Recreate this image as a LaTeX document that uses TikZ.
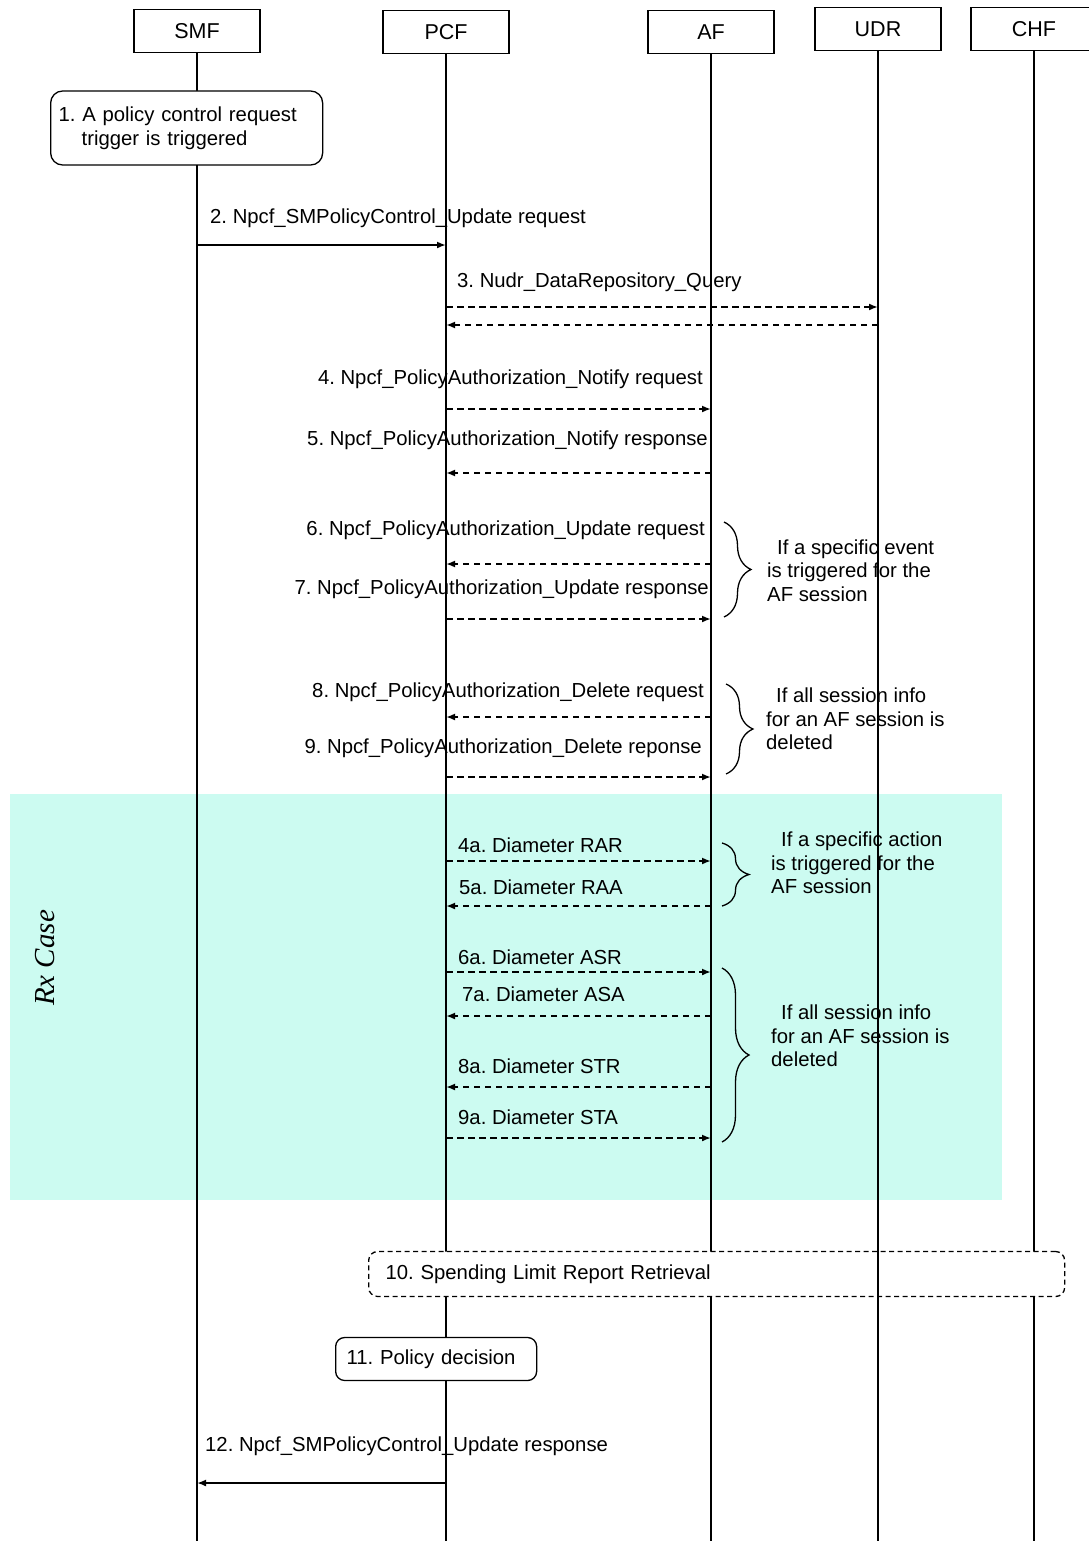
\documentclass[tikz,border=0pt]{standalone}
\usepackage{fontspec}
\setmainfont{Liberation Sans}
\newfontfamily\rxfont{Liberation Serif}
\usepackage{xcolor}
\usetikzlibrary{positioning}
\usetikzlibrary{arrows.meta}
\usetikzlibrary{decorations.pathreplacing}
\definecolor{rxcyan}{RGB}{204,251,241}

\begin{document}
\begin{tikzpicture}[x=1pt, y=-1pt, font=\fontsize{20.3}{24}\selectfont\frenchspacing,
	>={Latex[length=9pt,width=7pt]},
	block/.style={draw, rectangle, line width=1.3pt, minimum width=126pt, minimum height=43pt, inner sep=0pt,
		font=\fontsize{21.5}{24}\selectfont},
	life/.style={line width=1.3pt},
	msg/.style={->, line width=2pt},
	dmsg/.style={->, line width=2pt, dash pattern=on 6.5pt off 4.5pt},
	lbl/.style={anchor=base west, inner sep=0pt},
	rlbl/.style={anchor=base east, inner sep=0pt},
	note/.style={draw, rounded corners=9pt, fill=white, line width=1.3pt, anchor=west, inner ysep=0pt, align=left},
	cond/.style={anchor=north west, inner sep=0pt, align=left, font=\fontsize{20.3}{23.5}\selectfont\frenchspacing},
	grp/.style={decorate, decoration={brace, amplitude=27pt}, line width=1.3pt}]

\useasboundingbox (0,0) rectangle (1088,1541);
\fill[rxcyan] (10,794) rectangle (1002,1200);
\node (rx) [rotate=90, font=\rxfont\itshape\fontsize{29}{32}\selectfont] at (45,958) {Rx Case};

% network functions
\node (smf) [block] at (197,31) {SMF};
\node (pcf) [block] at (446,32) {PCF};
\node (af)  [block] at (711,32) {AF};
\node (udr) [block] at (878,29) {UDR};
\node (chf) [block] at (1034,29) {CHF};
\coordinate (bottom) at (0,1541);

\foreach \X in {smf,pcf,af,chf}
	\draw[life] (\X.south) -- (\X |- bottom);

% local steps
\node (trig) [note, rounded corners=12pt, minimum height=74pt, text width=256pt, inner xsep=8pt] at (50,128)
	{1. A policy control request\\\hspace*{23pt}trigger is triggered};
\node (slr) [note, dash pattern=on 5pt off 3.5pt, minimum height=45pt, text width=662pt, inner xsep=17pt] at (368,1274)
	{10. Spending Limit Report Retrieval};
\node (dec) [note, minimum height=43pt, text width=179pt, inner xsep=11pt] at (335,1359)
	{11. Policy decision};
\draw[life] (udr.south) -- (udr |- bottom);

% message labels
\node (l2)  [lbl]  at (210,223)  {2. Npcf\_SMPolicyControl\_Update request};
\node (l3)  [lbl]  at (457,287)  {3. Nudr\_DataRepository\_Query};
\node (l4)  [rlbl] at (703,384)  {4. Npcf\_PolicyAuthorization\_Notify request};
\node (l5)  [rlbl] at (708,445)  {5. Npcf\_PolicyAuthorization\_Notify response};
\node (l6)  [rlbl] at (705,535)  {6. Npcf\_PolicyAuthorization\_Update request};
\node (l7)  [rlbl] at (709,594)  {7. Npcf\_PolicyAuthorization\_Update response};
\node (l8)  [rlbl] at (704,697)  {8. Npcf\_PolicyAuthorization\_Delete request};
\node (l9)  [rlbl] at (702,753)  {9. Npcf\_PolicyAuthorization\_Delete reponse};
\node (l4a) [lbl]  at (458,852)  {4a. Diameter RAR};
\node (l5a) [lbl]  at (459,894)  {5a. Diameter RAA};
\node (l6a) [lbl]  at (458,964)  {6a. Diameter ASR};
\node (l7a) [lbl]  at (462,1001) {7a. Diameter ASA};
\node (l8a) [lbl]  at (458,1073) {8a. Diameter STR};
\node (l9a) [lbl]  at (458,1124) {9a. Diameter STA};
\node (l12) [lbl]  at (205,1451) {12. Npcf\_SMPolicyControl\_Update response};

% messages
\foreach \y/\a/\b in {245/smf/pcf, 1483/pcf/smf}
	{\coordinate (r) at (0,\y);
	\draw[msg] (\a |- r) -- (\b |- r);}
\foreach \y/\a/\b in {307/pcf/udr, 325/udr/pcf, 409/pcf/af, 473/af/pcf, 564/af/pcf, 619/pcf/af,
	717/af/pcf, 777/pcf/af, 861/pcf/af, 906/af/pcf, 972/pcf/af, 1016/af/pcf, 1087/af/pcf, 1138/pcf/af}
	{\coordinate (r) at (0,\y);
	\draw[dmsg] (\a |- r) -- (\b |- r);}

% conditions
\draw[grp] (724,522) -- (724,617);
\node (c1) [cond] at (767,539.5) {\hspace*{10pt}If a specific event\\is triggered for the\\AF session};
\draw[grp] (726,684) -- (726,774);
\node (c2) [cond] at (766,688) {\hspace*{10pt}If all session info\\for an AF session is\\deleted};
\draw[grp] (722,843) -- (722,906);
\node (c3) [cond] at (771,832) {\hspace*{10pt}If a specific action\\is triggered for the\\AF session};
\draw[grp] (722,968) -- (722,1142);
\node (c4) [cond] at (771,1005) {\hspace*{10pt}If all session info\\for an AF session is\\deleted};
\end{tikzpicture}
\end{document}
